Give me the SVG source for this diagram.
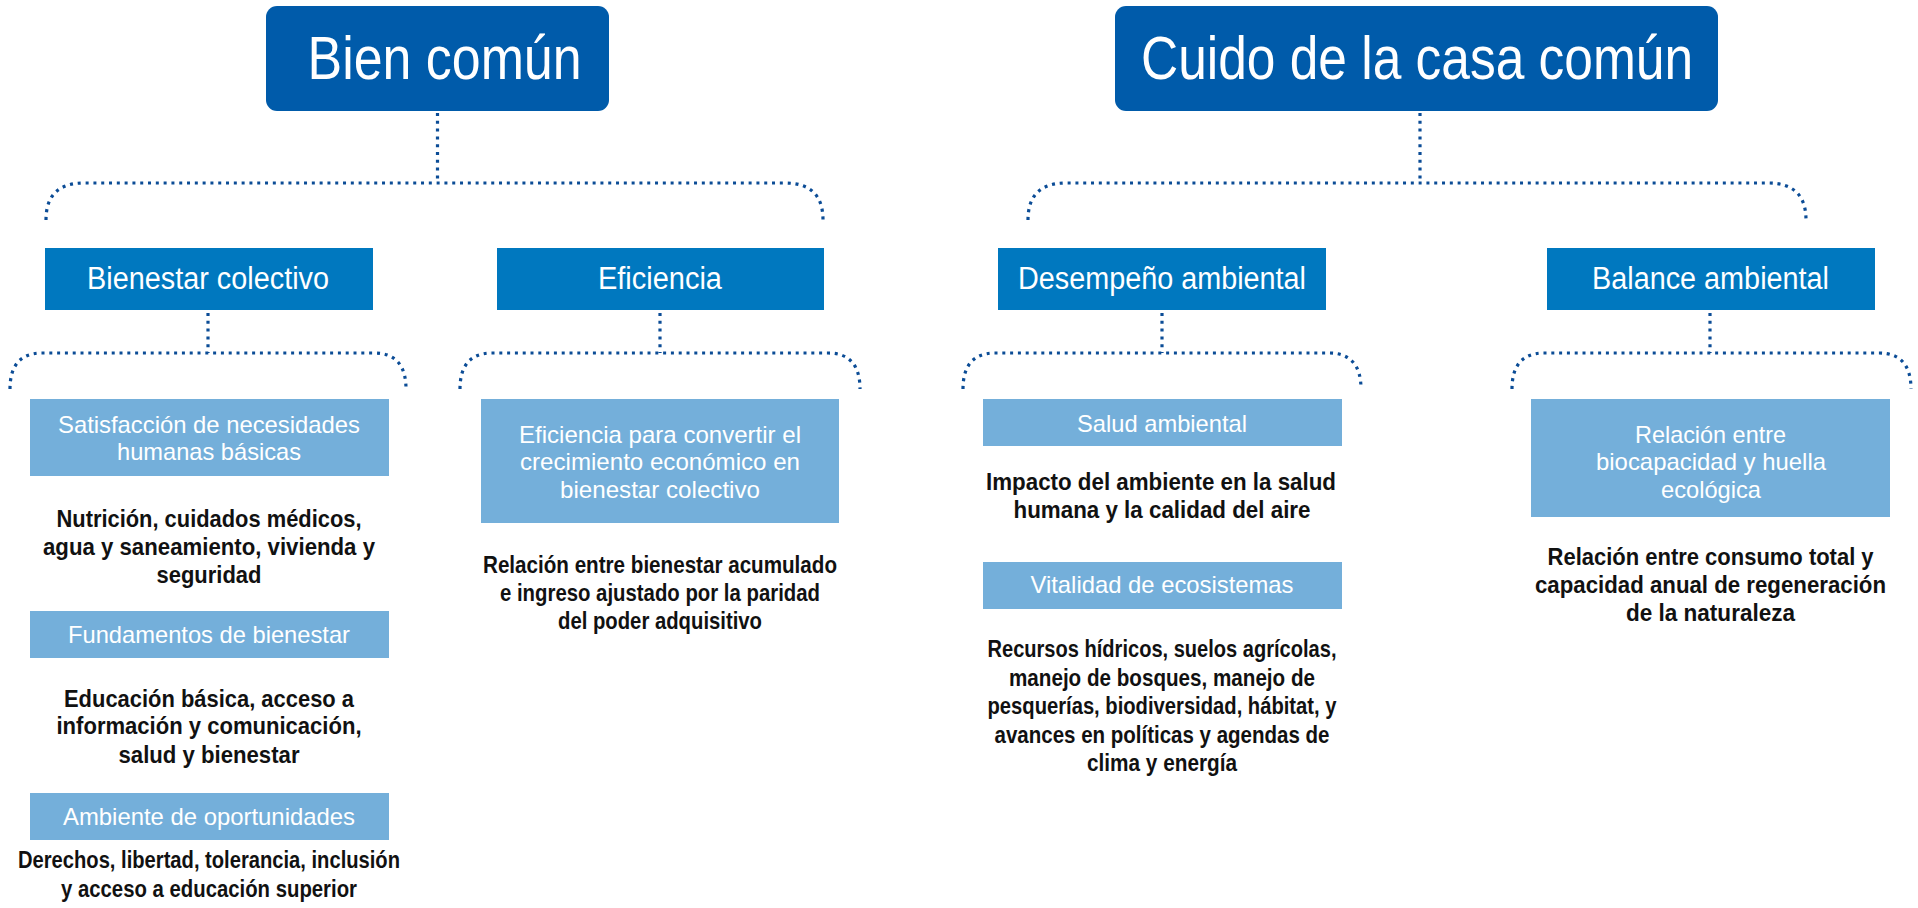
<svg xmlns="http://www.w3.org/2000/svg" width="1918" height="908" viewBox="0 0 1918 908">
<style>
.t1{fill:#005BAA}
.t2{fill:#0078BF}
.t3{fill:#74AFDA}
text{font-family:"Liberation Sans",Arial,sans-serif;text-anchor:middle}
.w1{fill:#fff;font-size:62px}
.w2{fill:#fff;font-size:31px}
.w3{fill:#fff;font-size:24px}
.b{fill:#111;font-size:24px;font-weight:bold}
.dot{fill:none;stroke:#0B4C96;stroke-width:3.2;stroke-dasharray:3 4.8}
</style>
<rect width="1918" height="908" fill="#fff"/>
<g id="connectors">
<path class="dot" d="M437.5,113 L437.5,183"/>
<path class="dot" d="M46,220 C46,196 58,183 84,183 L785,183 C811,183 823,196 823,220"/>
<path class="dot" d="M1420,113 L1420,183"/>
<path class="dot" d="M1028,220 C1028,196 1040,183 1066,183 L1768,183 C1794,183 1806,196 1806,220"/>
<path class="dot" d="M208,313 L208,353"/>
<path class="dot" d="M10,389 C10,366 20,353 42,353 L374,353 C396,353 406,366 406,389"/>
<path class="dot" d="M660,313 L660,353"/>
<path class="dot" d="M460,389 C460,366 470,353 492,353 L828,353 C850,353 860,366 860,389"/>
<path class="dot" d="M1162,313 L1162,353"/>
<path class="dot" d="M963,389 C963,366 973,353 995,353 L1329,353 C1351,353 1361,366 1361,389"/>
<path class="dot" d="M1710,313 L1710,353"/>
<path class="dot" d="M1512,389 C1512,366 1522,353 1544,353 L1879,353 C1901,353 1911,366 1911,389"/>
</g>
<g id="bien-comun">
<rect class="t1" x="266" y="6" width="343" height="105" rx="11"/>
<text class="w1" x="444.6" y="79" textLength="274" lengthAdjust="spacingAndGlyphs">Bien común</text>
</g>
<g id="cuido-casa-comun">
<rect class="t1" x="1115" y="6" width="603" height="105" rx="11"/>
<text class="w1" x="1417" y="79" textLength="552" lengthAdjust="spacingAndGlyphs">Cuido de la casa común</text>
</g>
<g id="bienestar-colectivo">
<rect class="t2" x="45" y="248" width="328" height="62"/>
<text class="w2" x="208" y="289" textLength="242" lengthAdjust="spacingAndGlyphs">Bienestar colectivo</text>
</g>
<g id="eficiencia">
<rect class="t2" x="497" y="248" width="327" height="62"/>
<text class="w2" x="660" y="289" textLength="124" lengthAdjust="spacingAndGlyphs">Eficiencia</text>
</g>
<g id="desempeno-ambiental">
<rect class="t2" x="998" y="248" width="328" height="62"/>
<text class="w2" x="1162" y="289" textLength="288" lengthAdjust="spacingAndGlyphs">Desempeño ambiental</text>
</g>
<g id="balance-ambiental">
<rect class="t2" x="1547" y="248" width="328" height="62"/>
<text class="w2" x="1710.5" y="289" textLength="237" lengthAdjust="spacingAndGlyphs">Balance ambiental</text>
</g>
<g id="satisfaccion">
<rect class="t3" x="30" y="399" width="359" height="77"/>
<text class="w3" x="209" y="432.7" textLength="302" lengthAdjust="spacingAndGlyphs">Satisfacción de necesidades</text>
<text class="w3" x="209" y="460" textLength="184" lengthAdjust="spacingAndGlyphs">humanas básicas</text>
</g>
<g id="satisfaccion-desc">
<text class="b" x="209" y="526.7" textLength="305" lengthAdjust="spacingAndGlyphs">Nutrición, cuidados médicos,</text>
<text class="b" x="209" y="555" textLength="332" lengthAdjust="spacingAndGlyphs">agua y saneamiento, vivienda y</text>
<text class="b" x="209" y="583.3" textLength="105" lengthAdjust="spacingAndGlyphs">seguridad</text>
</g>
<g id="fundamentos">
<rect class="t3" x="30" y="611" width="359" height="47"/>
<text class="w3" x="209" y="643.3" textLength="282" lengthAdjust="spacingAndGlyphs">Fundamentos de bienestar</text>
</g>
<g id="fundamentos-desc">
<text class="b" x="209" y="706.7" textLength="290" lengthAdjust="spacingAndGlyphs">Educación básica, acceso a</text>
<text class="b" x="209" y="734.3" textLength="305" lengthAdjust="spacingAndGlyphs">información y comunicación,</text>
<text class="b" x="209" y="763.3" textLength="181" lengthAdjust="spacingAndGlyphs">salud y bienestar</text>
</g>
<g id="ambiente">
<rect class="t3" x="30" y="793" width="359" height="47"/>
<text class="w3" x="209" y="825" textLength="292" lengthAdjust="spacingAndGlyphs">Ambiente de oportunidades</text>
</g>
<g id="ambiente-desc">
<text class="b" x="209" y="868.3" textLength="382" lengthAdjust="spacingAndGlyphs">Derechos, libertad, tolerancia, inclusión</text>
<text class="b" x="209" y="896.7" textLength="296" lengthAdjust="spacingAndGlyphs">y acceso a educación superior</text>
</g>
<g id="eficiencia-convertir">
<rect class="t3" x="481" y="399" width="358" height="124"/>
<text class="w3" x="660" y="442.7" textLength="282" lengthAdjust="spacingAndGlyphs">Eficiencia para convertir el</text>
<text class="w3" x="660" y="470" textLength="280" lengthAdjust="spacingAndGlyphs">crecimiento económico en</text>
<text class="w3" x="660" y="498.3" textLength="200" lengthAdjust="spacingAndGlyphs">bienestar colectivo</text>
</g>
<g id="eficiencia-desc">
<text class="b" x="660" y="572.7" textLength="354" lengthAdjust="spacingAndGlyphs">Relación entre bienestar acumulado</text>
<text class="b" x="660" y="600.7" textLength="320" lengthAdjust="spacingAndGlyphs">e ingreso ajustado por la paridad</text>
<text class="b" x="660" y="629.3" textLength="204" lengthAdjust="spacingAndGlyphs">del poder adquisitivo</text>
</g>
<g id="salud-ambiental">
<rect class="t3" x="983" y="399" width="359" height="47"/>
<text class="w3" x="1162" y="431.7" textLength="170" lengthAdjust="spacingAndGlyphs">Salud ambiental</text>
</g>
<g id="salud-desc">
<text class="b" x="1161" y="490" textLength="350" lengthAdjust="spacingAndGlyphs">Impacto del ambiente en la salud</text>
<text class="b" x="1162" y="518.3" textLength="297" lengthAdjust="spacingAndGlyphs">humana y la calidad del aire</text>
</g>
<g id="vitalidad">
<rect class="t3" x="983" y="562" width="359" height="47"/>
<text class="w3" x="1162" y="593.3" textLength="263" lengthAdjust="spacingAndGlyphs">Vitalidad de ecosistemas</text>
</g>
<g id="vitalidad-desc">
<text class="b" x="1162" y="657.3" textLength="349" lengthAdjust="spacingAndGlyphs">Recursos hídricos, suelos agrícolas,</text>
<text class="b" x="1162" y="686" textLength="306" lengthAdjust="spacingAndGlyphs">manejo de bosques, manejo de</text>
<text class="b" x="1162" y="714" textLength="349" lengthAdjust="spacingAndGlyphs">pesquerías, biodiversidad, hábitat, y</text>
<text class="b" x="1162" y="742.7" textLength="335" lengthAdjust="spacingAndGlyphs">avances en políticas y agendas de</text>
<text class="b" x="1162" y="770.7" textLength="150" lengthAdjust="spacingAndGlyphs">clima y energía</text>
</g>
<g id="biocapacidad">
<rect class="t3" x="1531" y="399" width="359" height="118"/>
<text class="w3" x="1710.5" y="442.7" textLength="151" lengthAdjust="spacingAndGlyphs">Relación entre</text>
<text class="w3" x="1711" y="470" textLength="230" lengthAdjust="spacingAndGlyphs">biocapacidad y huella</text>
<text class="w3" x="1711" y="498.3" textLength="100" lengthAdjust="spacingAndGlyphs">ecológica</text>
</g>
<g id="biocapacidad-desc">
<text class="b" x="1710.6" y="565" textLength="326" lengthAdjust="spacingAndGlyphs">Relación entre consumo total y</text>
<text class="b" x="1710.5" y="592.7" textLength="351" lengthAdjust="spacingAndGlyphs">capacidad anual de regeneración</text>
<text class="b" x="1710.5" y="620.7" textLength="169" lengthAdjust="spacingAndGlyphs">de la naturaleza</text>
</g>
</svg>
